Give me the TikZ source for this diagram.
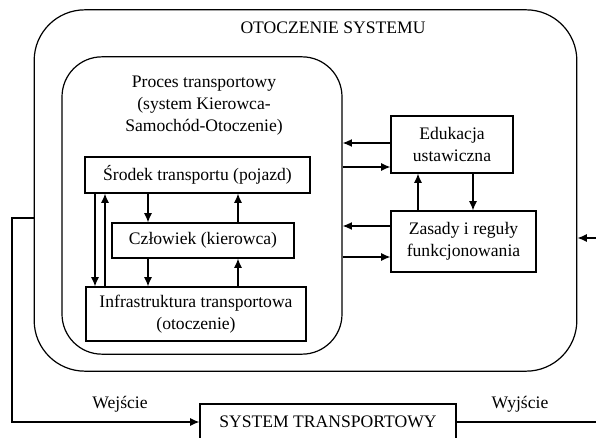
\documentclass[tikz,border=0pt]{standalone}
\usepackage{fontspec}
\setmainfont{Liberation Serif}
\usetikzlibrary{positioning,arrows.meta}

\begin{document}
\begin{tikzpicture}[x=0.75pt, y=-0.75pt,
    txt/.style={font=\fontsize{13.2}{16.5}\selectfont, align=center},
    box/.style={txt, draw, line width=0.8pt, inner sep=0pt},
    frame/.style={draw, line width=0.9pt, inner sep=0pt},
    arr/.style={-{Latex[length=7pt,width=6pt]}, line width=1pt},
    line/.style={line width=1pt}]
        \useasboundingbox (0,0) rectangle (596,438);

        % ramy
        \node[frame, rounded corners=38pt, minimum width=407pt, minimum height=271pt] (otoczenie) at (305.5,190.5) {};
        \node[frame, rounded corners=30pt, minimum width=210pt, minimum height=223pt] (proces) at (202,205.5) {};
        \node[txt] (tytul) at (333,28) {OTOCZENIE SYSTEMU};
        \node[txt] (procestxt) at (204,106) {Proces transportowy\\(system Kierowca-\\Samochód-Otoczenie)};

        % elementy procesu
        \node[box, minimum width=168.75pt, minimum height=27pt] (srodek) at (197.5,175) {Środek transportu (pojazd)};
        \node[box, minimum width=136.5pt, minimum height=26.25pt] (czlowiek) at (203,240.5) {Człowiek (kierowca)};
        \node[box, minimum width=165pt, minimum height=40.5pt] (infra) at (196,314) {Infrastruktura transportowa\\(otoczenie)};

        \node[box, minimum width=91.5pt, minimum height=42.75pt] (edukacja) at (452,144.5) {Edukacja\\ustawiczna};
        \node[box, minimum width=108.75pt, minimum height=45.75pt] (zasady) at (463.5,241.5) {Zasady i reguły\\funkcjonowania};

        \node[box, minimum width=192pt, minimum height=27pt] (system) at (328,422) {SYSTEM TRANSPORTOWY};

        % strzalki wewnatrz procesu
        \draw[arr] (95,0 |- srodek.south) -- (95,0 |- infra.north);
        \draw[arr] (105,0 |- infra.north) -- (105,0 |- srodek.south);
        \draw[arr] (148,0 |- srodek.south) -- (148,0 |- czlowiek.north);
        \draw[arr] (148,0 |- czlowiek.south) -- (148,0 |- infra.north);
        \draw[arr] (238,0 |- infra.north) -- (238,0 |- czlowiek.south);
        \draw[arr] (238,0 |- czlowiek.north) -- (238,0 |- srodek.south);

        % edukacja i zasady
        \draw[arr] (edukacja.west |- 0,143) -- (proces.east |- 0,143);
        \draw[arr] (proces.east |- 0,167) -- (edukacja.west |- 0,167);
        \draw[arr] (zasady.west |- 0,226) -- (proces.east |- 0,226);
        \draw[arr] (proces.east |- 0,257) -- (zasady.west |- 0,257);
        \draw[arr] (418,0 |- zasady.north) -- (418,0 |- edukacja.south);
        \draw[arr] (473,0 |- edukacja.south) -- (473,0 |- zasady.north);

        % wejscie i wyjscie
        \coordinate (lewy) at (12,218);
        \coordinate (prawy) at (596,238);
        \coordinate (wyjscie) at (596,422);
        \draw[arr] (prawy) -- (prawy -| otoczenie.east);
        \draw[arr] (otoczenie.west |- lewy) -- (lewy) |- (system.west);
        \draw[line] (system.east) -- (wyjscie);
        \node[txt] (wejsciel) at (120,404) {Wejście};
        \node[txt] (wyjsciel) at (520,404) {Wyjście};

    \end{tikzpicture}
\end{document}
